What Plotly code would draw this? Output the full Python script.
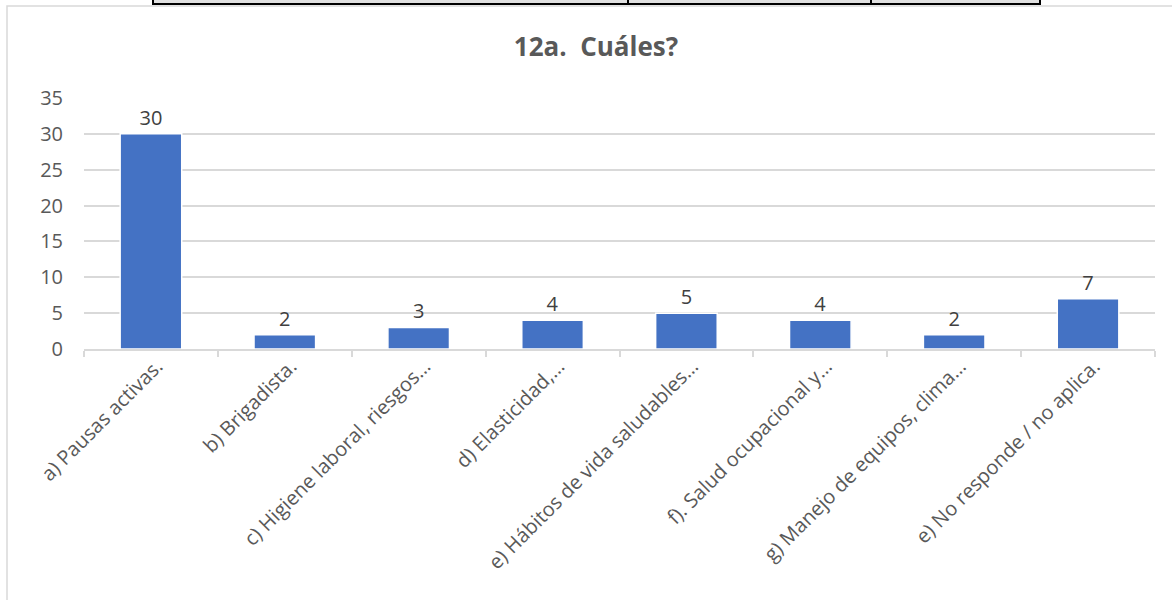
import plotly.graph_objects as go

categories = [
    "a) Pausas activas.",
    "b) Brigadista.",
    "c) Higiene laboral, riesgos…",
    "d) Elasticidad,…",
    "e) Hábitos de vida saludables…",
    "f). Salud ocupacional y…",
    "g) Manejo de equipos, clima…",
    "e) No responde / no aplica.",
]
values = [30, 2, 3, 4, 5, 4, 2, 7]
y_ticks = [0, 5, 10, 15, 20, 25, 30, 35]
title_text = "<b>12a.  Cuáles?</b>"

W, H = 1172, 600
L, T = 84, 98
R = W - 1155
B = H - 349
pw, ph = W - L - R, H - T - B

def px(x):
    return (x - L) / pw

def py(y):
    return (H - B - y) / ph

FONT = "'Open Sans', sans-serif"

fig = go.Figure()
fig.add_trace(go.Bar(
    x=categories, y=values,
    marker=dict(color="#4472C4", line=dict(color="#FFFFFF", width=1.5)),
    text=[str(v) for v in values], textposition="outside",
    textfont=dict(family=FONT, size=20, color="#404040"),
    cliponaxis=False,
    hoverinfo="skip",
))

shapes = []
shapes.append(dict(type="rect", xref="paper", yref="paper",
                   x0=px(7), x1=px(1190), y0=py(640), y1=py(6),
                   line=dict(color="#D9D9D9", width=1.5), fillcolor="rgba(0,0,0,0)", layer="below"))
shapes.append(dict(type="rect", xref="paper", yref="paper",
                   x0=px(153), x1=px(1040), y0=py(4), y1=py(-10),
                   line=dict(color="#000000", width=2), fillcolor="#E0E0E0"))
for xv in [628, 871]:
    shapes.append(dict(type="line", xref="paper", yref="paper",
                       x0=px(xv), x1=px(xv), y0=py(4), y1=py(-10),
                       line=dict(color="#000000", width=2)))

fig.update_layout(
    width=W, height=H,
    margin=dict(l=L, r=R, t=T, b=B),
    paper_bgcolor="white", plot_bgcolor="white",
    showlegend=False,
    bargap=0.54,
    title=dict(text=title_text, x=596 / W, xref="container", xanchor="center",
               y=1 - 47 / H, yanchor="middle",
               font=dict(family=FONT, size=26, color="#595959")),
    shapes=shapes,
    xaxis=dict(
        showline=True, linecolor="#D9D9D9", linewidth=1.5,
        ticks="outside", tickson="boundaries", ticklen=6, tickcolor="#D9D9D9", tickwidth=1.5,
        tickangle=-45, tickfont=dict(family=FONT, size=20, color="#595959"),
        ticklabelshift=6, ticklabelstandoff=-4,
        showgrid=False,
    ),
    yaxis=dict(
        range=[0, 35], tickvals=y_ticks, showgrid=True, gridcolor="#D9D9D9", gridwidth=1.5,
        zeroline=False, showline=False, ticks="",
        ticklabelstandoff=20,
        tickfont=dict(family=FONT, size=20, color="#595959"),
    ),
)

fig.write_html("out.html", config={"displayModeBar": False},
               post_script="document.body.style.margin='0px';")
